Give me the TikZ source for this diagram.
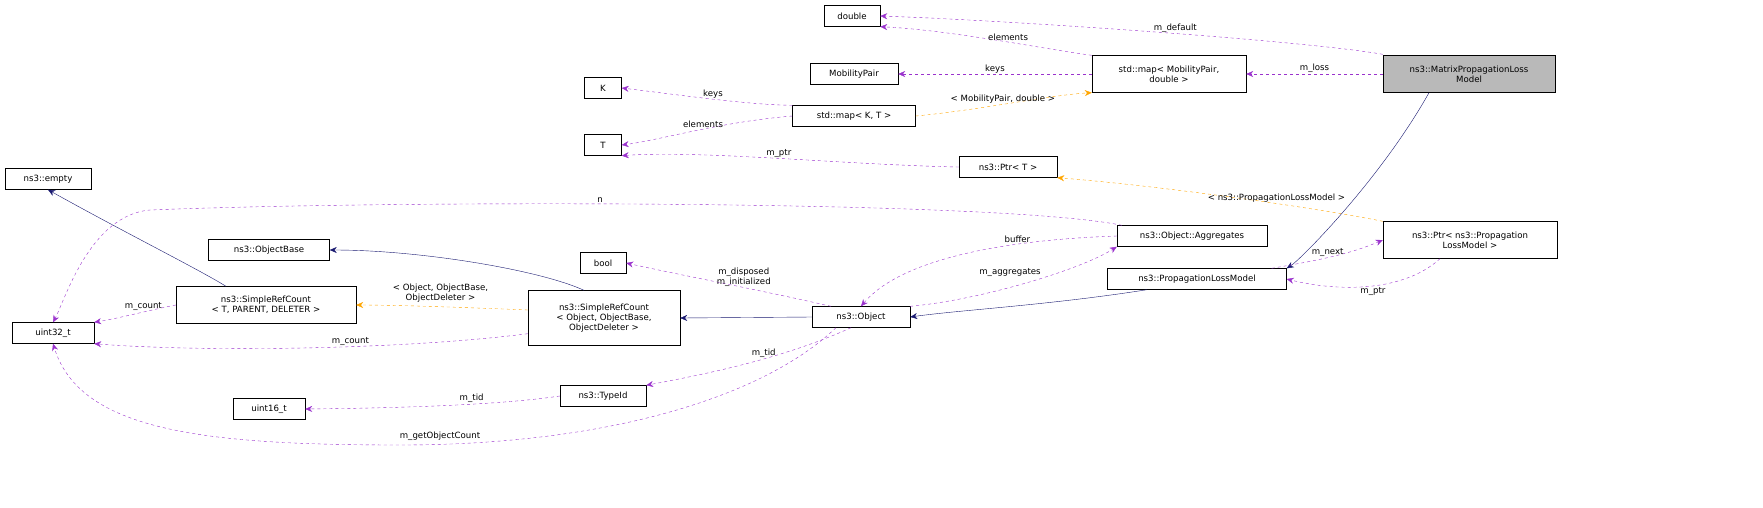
\documentclass[tikz,border=0pt]{standalone}
\usepackage{fontspec}
\setmainfont{DejaVu Sans}
\usetikzlibrary{arrows.meta}
\definecolor{pur}{HTML}{9A32CD}
\definecolor{nav}{HTML}{191970}
\definecolor{ora}{HTML}{FFA500}
\begin{document}
\begin{tikzpicture}[x=1pt,y=-1pt,font=\fontsize{8.6}{10}\selectfont,
 box/.style={draw,fill=white,inner sep=0pt,align=center,minimum height=#1},
 box/.default=21,
 use/.style={draw=pur,dashed,-{Stealth[length=7pt,width=6pt]}},
 inh/.style={draw=nav,-{Stealth[length=7pt,width=6pt]}},
 tpl/.style={draw=ora,dashed,-{Stealth[length=7pt,width=6pt]}},
 lbl/.style={align=center,inner sep=1pt}]
\useasboundingbox (0,0) rectangle (1763,507);
\node[box,minimum width=56] (dbl) at (852,16) {double};
\node[box=37,minimum width=172,fill=gray!55] (mat) at (1469,74) {ns3::MatrixPropagationLoss\\Model};
\node[box,minimum width=88] (mp) at (854,74) {MobilityPair};
\node[box=37,minimum width=154] (mapmp) at (1169,74) {std::map< MobilityPair,\\double >};
\node[box,minimum width=37] (K) at (603,88) {K};
\node[box,minimum width=123] (mapkt) at (854,116) {std::map< K, T >};
\node[box,minimum width=37] (T) at (603,145) {T};
\node[box,minimum width=98] (ptrt) at (1008,167) {ns3::Ptr< T >};
\node[box,minimum width=86] (empty) at (48,179) {ns3::empty};
\node[box,minimum width=150] (agg) at (1192,236) {ns3::Object::Aggregates};
\node[box=37,minimum width=174] (ptrp) at (1470,240) {ns3::Ptr< ns3::Propagation\\LossModel >};
\node[box,minimum width=121] (ob) at (269,250) {ns3::ObjectBase};
\node[box,minimum width=46] (bool) at (603,263) {bool};
\node[box,minimum width=179] (plm) at (1197,279) {ns3::PropagationLossModel};
\node[box=37,minimum width=180] (srct) at (266,305) {ns3::SimpleRefCount\\< T, PARENT, DELETER >};
\node[box=55,minimum width=152] (srco) at (604,318) {ns3::SimpleRefCount\\< Object, ObjectBase,\\ObjectDeleter >};
\node[box,minimum width=98] (obj) at (861,317) {ns3::Object};
\node[box,minimum width=82] (u32) at (53,333) {uint32\_t};
\node[box,minimum width=72] (u16) at (269,409) {uint16\_t};
\node[box,minimum width=86] (tid) at (603,396) {ns3::TypeId};

\draw[use] (mat.north west) ++(0,-1) .. controls (1300,40) and (1000,20) .. (dbl.east) node[lbl,pos=0.45,above]{m\_default};
\draw[use] (mapmp.north west) .. controls (1050,50) and (950,30) .. (dbl.south east) node[lbl,pos=0.45,above]{elements};
\draw[use] (mapmp.west) -- (mp.east) node[lbl,midway,above]{keys};
\draw[use] (mat.west) -- (mapmp.east) node[lbl,midway,above]{m\_loss};
\draw[tpl] (mapkt.east) .. controls (980,110) and (1050,95) .. (mapmp.south west) node[lbl,pos=0.45,above]{< MobilityPair, double >};
\draw[use] (mapkt.north west) .. controls (750,105) and (680,95) .. (K.east) node[lbl,pos=0.5,above]{keys};
\draw[use] (mapkt.west) .. controls (720,122) and (660,140) .. (T.east) node[lbl,pos=0.45,above]{elements};
\draw[use] (ptrt.west) .. controls (850,165) and (700,150) .. (T.south east) node[lbl,pos=0.5,above]{m\_ptr};
\draw[tpl] (ptrp.north west) .. controls (1300,205) and (1150,185) .. (ptrt.south east) node[lbl,pos=0.35,above]{< ns3::PropagationLossModel >};
\draw[inh] (mat.south) ++(-40,0) .. controls (1380,180) and (1300,260) .. (plm.north east);
\draw[use] (ptrp.south) ++(-30,0) .. controls (1400,295) and (1330,290) .. (plm.east) node[lbl,pos=0.45,below]{m\_ptr};
\draw[use] (plm.north east) ++(-15,0) .. controls (1320,260) and (1350,254) .. (ptrp.west) node[lbl,pos=0.45,above]{m\_next};
\draw[use] (agg.north west) ++(5,0) .. controls (1000,200) and (400,200) .. (150,210) .. controls (90,215) and (65,300) .. (u32.north);
\node[lbl] at (600,200) {n};
\draw[use] (agg.west) .. controls (1000,240) and (900,260) .. (obj.north) node[lbl,pos=0.3,above]{buffer};
\draw[use] (obj.north east) .. controls (980,300) and (1080,270) .. (agg.south west);
\node[lbl] at (1010,272) {m\_aggregates};
\draw[inh] (plm.south) ++(-50,0) .. controls (1050,305) and (960,310) .. (obj.east);
\draw[use] (obj.north) ++(-30,0) .. controls (760,290) and (680,275) .. (bool.east) node[lbl,pos=0.4,above]{m\_disposed\\m\_initialized};
\draw[inh] (obj.west) -- (srco.east);
\draw[inh] (srco.north) ++(-20,0) .. controls (540,270) and (420,250) .. (ob.east);
\draw[inh] (srct.north) ++(-40,0) .. controls (200,270) and (120,230) .. (empty.south);
\draw[tpl] (srco.west) ++(0,-8) .. controls (480,308) and (400,305) .. (srct.east) node[lbl,pos=0.5,above=3pt]{< Object, ObjectBase,\\ObjectDeleter >};
\draw[use] (srct.west) .. controls (150,310) and (120,318) .. (u32.north east) node[lbl,pos=0.4,above]{m\_count};
\draw[use] (srco.south west) ++(0,-12) .. controls (400,350) and (200,352) .. (u32.south east) node[lbl,pos=0.4,above]{m\_count};
\draw[use] (obj.south) ++(-10,0) .. controls (780,360) and (700,375) .. (tid.north east) node[lbl,pos=0.4,above]{m\_tid};
\draw[use] (tid.west) .. controls (500,405) and (400,408) .. (u16.east) node[lbl,pos=0.4,above]{m\_tid};
\draw[use] (obj.south) ++(-25,0) .. controls (760,400) and (600,445) .. (400,445) .. controls (200,445) and (80,430) .. (u32.south);
\node[lbl] at (440,436) {m\_getObjectCount};
\end{tikzpicture}
\end{document}
